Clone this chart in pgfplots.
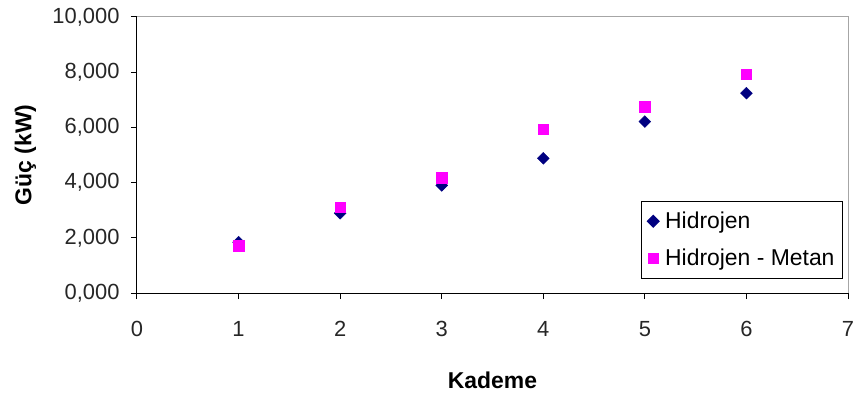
\documentclass[border=0pt]{standalone}
\usepackage{fontspec}
\setmainfont{Liberation Sans}
\usepackage{pgfplots}
\pgfplotsset{compat=1.18}
\definecolor{hnavy}{RGB}{0,0,128}
\definecolor{hmag}{RGB}{255,0,255}
\begin{document}
\begin{tikzpicture}
\begin{axis}[
  scale only axis,
  width=711bp, height=276bp,
  xmin=0, xmax=7, ymin=0, ymax=10,
  xtick={0,1,...,7}, ytick={0,2,...,10},
  axis x line*=bottom, axis y line*=left,
  axis line style={black, line width=1bp},
  tick style={black, line width=1bp},
  tick align=outside, major tick length=6bp,
  /pgf/number format/assume math mode=true,
  yticklabel={\pgfmathprintnumber[fixed, fixed zerofill, precision=3, use comma]{\tick}},
  xticklabel={\pgfmathprintnumber{\tick}},
  ticklabel style={font=\fontsize{22}{26}\selectfont, text=black!85},
  yticklabel style={xshift=-8bp},
  xticklabel style={yshift=-19bp},
  xlabel={\textbf{Kademe}},
  ylabel={\textbf{Güç (kW)}},
  label style={font=\fontsize{23}{27}\selectfont},
  xlabel style={at={(axis description cs:0.5,-0.315)}, anchor=center},
  ylabel style={at={(axis description cs:-0.157,0.5)}, anchor=center, rotate=0},
  legend style={at={(rel axis cs:0.993,0.051)}, anchor=south east,
    draw=black, line width=1bp, font=\fontsize{23}{27}\selectfont,
    row sep=15bp, inner xsep=6bp, inner ysep=9bp},
  legend cell align=left,
  clip=false,
]
\draw[gray!70, line width=1bp] (rel axis cs:0,1) -- (rel axis cs:1,1) -- (rel axis cs:1,0);
\addplot[only marks, mark=square*, mark size=4.2bp, mark options={rotate=45, fill=hnavy, draw=hnavy}]
  coordinates {(1,1.84) (2,2.89) (3,3.90) (4,4.88) (5,6.21) (6,7.24)};
\addlegendentry{\hspace{4bp}Hidrojen}
\addplot[only marks, mark=square*, mark size=5.2bp, mark options={fill=hmag, draw=hmag}]
  coordinates {(1,1.71) (2,3.11) (3,4.18) (4,5.94) (5,6.75) (6,7.92)};
\addlegendentry{\hspace{4bp}Hidrojen - Metan}
\end{axis}
\pgfresetboundingbox
\path (current axis.south west) ++(-137bp,-106bp) rectangle ++(853bp,399bp);
\end{tikzpicture}
\end{document}
